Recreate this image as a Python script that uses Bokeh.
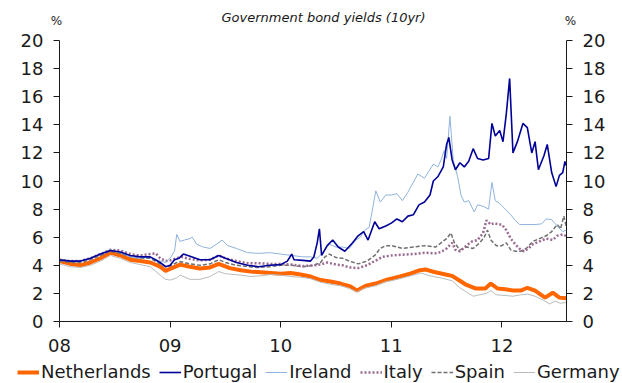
from bokeh.plotting import figure
from bokeh.models import (Range1d, LinearAxis, FixedTicker, Legend, LegendItem, Label)
from bokeh.embed import file_html
from bokeh.resources import INLINE

# 10-year government bond yields, % (x in decimal years)
nl_t = [2008.0, 2008.1, 2008.19, 2008.28, 2008.37, 2008.46, 2008.55, 2008.64, 2008.73, 2008.82,
        2008.91, 2008.96, 2009.0, 2009.09, 2009.18, 2009.27, 2009.36, 2009.44, 2009.54, 2009.64,
        2009.73, 2009.82, 2009.91, 2010.0, 2010.09, 2010.18, 2010.27, 2010.36, 2010.45, 2010.54,
        2010.63, 2010.69, 2010.77, 2010.86, 2010.95, 2011.0, 2011.08, 2011.17, 2011.26, 2011.31,
        2011.4, 2011.49, 2011.55, 2011.62, 2011.68, 2011.76, 2011.85, 2011.9, 2011.96, 2012.03,
        2012.1, 2012.17, 2012.23, 2012.3, 2012.39, 2012.46, 2012.52, 2012.58]
nl_v = [4.3, 4.1, 4.0, 4.2, 4.5, 4.9, 4.7, 4.4, 4.3, 4.2,
        3.9, 3.6, 3.75, 4.05, 3.9, 3.77, 3.85, 4.1, 3.8, 3.65,
        3.55, 3.5, 3.45, 3.4, 3.45, 3.35, 3.2, 2.95, 2.85, 2.7,
        2.5, 2.2, 2.55, 2.7, 2.95, 3.05, 3.2, 3.4, 3.65, 3.7,
        3.5, 3.35, 3.25, 2.9, 2.6, 2.35, 2.35, 2.7, 2.35, 2.3,
        2.2, 2.2, 2.4, 2.2, 1.7, 2.05, 1.7, 1.65]

pt_t = [2008.0, 2008.1, 2008.19, 2008.28, 2008.37, 2008.46, 2008.55, 2008.64, 2008.73, 2008.82,
        2008.91, 2008.96, 2009.0, 2009.04, 2009.08, 2009.12, 2009.18, 2009.27, 2009.36, 2009.44,
        2009.5, 2009.6, 2009.7, 2009.8, 2009.9, 2010.0, 2010.06, 2010.1, 2010.12, 2010.2,
        2010.27, 2010.3, 2010.33, 2010.35, 2010.37, 2010.42, 2010.47, 2010.52, 2010.58, 2010.65,
        2010.7, 2010.75, 2010.79, 2010.85, 2010.89, 2010.95, 2011.0, 2011.05, 2011.1, 2011.15,
        2011.2, 2011.25, 2011.3, 2011.35, 2011.38, 2011.42, 2011.47, 2011.5, 2011.52, 2011.55,
        2011.58, 2011.62, 2011.66, 2011.7, 2011.74, 2011.78, 2011.83, 2011.88, 2011.91, 2011.94,
        2011.98, 2012.01, 2012.04, 2012.07, 2012.1, 2012.14, 2012.19, 2012.23, 2012.27, 2012.3,
        2012.33, 2012.38, 2012.41, 2012.45, 2012.49, 2012.52, 2012.55, 2012.57, 2012.58]
pt_v = [4.4, 4.3, 4.3, 4.5, 4.8, 5.05, 4.95, 4.7, 4.6, 4.6,
        4.2, 3.9, 4.0, 4.4, 4.5, 4.8, 4.65, 4.4, 4.4, 4.7,
        4.5, 4.2, 4.0, 3.9, 4.0, 4.05, 4.3, 4.8, 4.4, 4.35,
        4.3, 4.6, 5.6, 6.6, 4.7, 5.4, 5.8, 5.3, 5.0, 5.6,
        6.1, 6.4, 5.8, 7.1, 6.6, 6.8, 7.0, 7.3, 7.1, 7.5,
        7.6, 8.3, 8.5, 9.0, 10.0, 10.3, 11.0, 12.6, 13.1, 11.5,
        10.8, 11.3, 11.0, 11.4, 12.3, 11.6, 11.5, 11.6, 14.1, 13.2,
        13.6, 12.8, 14.8, 17.3, 12.0, 12.8, 14.1, 13.8, 12.0, 12.8,
        10.8, 11.8, 12.6, 10.6, 9.6, 10.4, 10.6, 11.4, 11.1]

ie_t = [2008.0, 2008.1, 2008.19, 2008.28, 2008.37, 2008.46, 2008.55, 2008.64, 2008.73, 2008.82,
        2008.91, 2008.96, 2009.0, 2009.04, 2009.06, 2009.09, 2009.13, 2009.18, 2009.2, 2009.24,
        2009.3, 2009.36, 2009.42, 2009.47, 2009.52, 2009.6, 2009.7, 2009.8, 2009.9, 2010.0,
        2010.1, 2010.2, 2010.27, 2010.33, 2010.38, 2010.44, 2010.5, 2010.56, 2010.62, 2010.68,
        2010.72, 2010.76, 2010.8, 2010.83, 2010.86, 2010.9, 2010.95, 2011.0, 2011.05, 2011.1,
        2011.15, 2011.24, 2011.3, 2011.38, 2011.42, 2011.45, 2011.48, 2011.5, 2011.53, 2011.56,
        2011.6, 2011.63, 2011.66, 2011.7, 2011.75, 2011.78, 2011.83, 2011.88, 2011.91, 2011.94,
        2011.98, 2012.03, 2012.08, 2012.12, 2012.16, 2012.22, 2012.3, 2012.36, 2012.4, 2012.45,
        2012.5, 2012.55, 2012.58]
ie_v = [4.4, 4.3, 4.3, 4.5, 4.8, 5.1, 4.9, 4.6, 4.5, 4.6,
        4.3, 4.2, 4.5, 5.0, 6.2, 5.7, 5.8, 5.9, 6.0, 5.5,
        5.3, 5.2, 5.5, 5.8, 5.4, 5.2, 4.9, 4.85, 4.9, 4.8,
        4.7, 4.6, 4.6, 4.5, 4.9, 5.5, 5.3, 5.3, 5.2, 5.8,
        6.0, 6.5, 6.7, 8.0, 9.3, 8.5, 9.0, 9.0, 9.1, 8.6,
        9.2, 10.5, 10.2, 11.2, 11.0, 11.5, 12.2, 11.6, 14.6, 11.5,
        10.3, 9.0, 8.5, 8.6, 7.8, 8.3, 8.2, 8.0, 9.9, 8.6,
        8.4, 8.0, 7.6, 7.2, 6.9, 6.9, 6.9, 6.95, 7.3, 7.25,
        6.8, 6.4, 6.5]

it_t = [2008.0, 2008.1, 2008.19, 2008.28, 2008.37, 2008.46, 2008.55, 2008.64, 2008.73, 2008.82,
        2008.87, 2008.91, 2008.96, 2009.0, 2009.06, 2009.1, 2009.18, 2009.27, 2009.36, 2009.44,
        2009.5, 2009.6, 2009.7, 2009.8, 2009.9, 2010.0, 2010.1, 2010.2, 2010.3, 2010.36,
        2010.42, 2010.5, 2010.56, 2010.62, 2010.7, 2010.78, 2010.85, 2010.92, 2011.0, 2011.1,
        2011.2, 2011.3, 2011.4, 2011.45, 2011.5, 2011.55, 2011.58, 2011.62, 2011.68, 2011.73,
        2011.78, 2011.83, 2011.86, 2011.9, 2011.93, 2011.97, 2012.0, 2012.04, 2012.08, 2012.12,
        2012.17, 2012.2, 2012.24, 2012.28, 2012.34, 2012.4, 2012.46, 2012.5, 2012.55, 2012.58]
it_v = [4.4, 4.3, 4.3, 4.5, 4.8, 5.1, 5.05, 4.8, 4.7, 4.8,
        4.85, 4.5, 4.3, 4.35, 4.5, 4.6, 4.45, 4.35, 4.4, 4.7,
        4.5, 4.3, 4.15, 4.15, 4.1, 4.1, 4.05, 3.95, 4.0, 4.05,
        4.2, 4.05, 4.0, 3.85, 3.8, 4.0, 4.3, 4.6, 4.7, 4.75,
        4.8, 4.9, 4.85, 4.95, 5.2, 5.6, 5.1, 5.0, 5.4, 5.7,
        5.8, 6.3, 7.2, 6.9, 7.0, 6.9, 6.9, 6.5, 5.9, 5.5,
        5.1, 5.0, 5.2, 5.5, 5.7, 5.9, 5.8, 6.1, 6.2, 6.1]

es_t = [2008.0, 2008.1, 2008.19, 2008.28, 2008.37, 2008.46, 2008.55, 2008.64, 2008.73, 2008.82,
        2008.91, 2008.96, 2009.0, 2009.06, 2009.1, 2009.18, 2009.27, 2009.36, 2009.44, 2009.5,
        2009.6, 2009.7, 2009.8, 2009.9, 2010.0, 2010.1, 2010.2, 2010.3, 2010.36, 2010.4,
        2010.44, 2010.5, 2010.56, 2010.62, 2010.7, 2010.78, 2010.85, 2010.9, 2010.95, 2011.0,
        2011.1, 2011.2, 2011.3, 2011.4, 2011.45, 2011.5, 2011.54, 2011.57, 2011.62, 2011.68,
        2011.74, 2011.8, 2011.84, 2011.87, 2011.9, 2011.95, 2012.0, 2012.04, 2012.08, 2012.12,
        2012.17, 2012.22, 2012.28, 2012.34, 2012.4, 2012.45, 2012.5, 2012.53, 2012.56, 2012.58]
es_v = [4.3, 4.2, 4.2, 4.4, 4.7, 5.0, 4.85, 4.6, 4.5, 4.5,
        4.1, 3.9, 3.95, 4.2, 4.25, 4.1, 4.0, 4.1, 4.4, 4.2,
        4.0, 3.9, 3.85, 3.9, 4.0, 4.0, 3.9, 4.0, 4.2, 4.6,
        4.8, 4.55, 4.5, 4.3, 4.1, 4.3, 4.7, 5.2, 5.4, 5.4,
        5.2, 5.3, 5.4, 5.3, 5.6, 5.9, 6.3, 5.6, 5.1, 5.3,
        5.2, 5.6, 6.0, 6.5, 5.8, 5.4, 5.4, 5.6, 5.1, 5.0,
        5.0, 5.2, 5.7, 5.9, 6.1, 6.4, 6.9, 6.6, 7.5, 6.8]

de_t = [2008.0, 2008.1, 2008.19, 2008.28, 2008.37, 2008.46, 2008.55, 2008.64, 2008.73, 2008.82,
        2008.91, 2008.96, 2009.0, 2009.06, 2009.09, 2009.18, 2009.27, 2009.36, 2009.44, 2009.5,
        2009.64, 2009.73, 2009.82, 2009.91, 2010.0, 2010.09, 2010.18, 2010.27, 2010.36, 2010.45,
        2010.54, 2010.62, 2010.69, 2010.75, 2010.86, 2010.95, 2011.0, 2011.1, 2011.2, 2011.27,
        2011.35, 2011.45, 2011.55, 2011.62, 2011.68, 2011.74, 2011.8, 2011.86, 2011.9, 2011.95,
        2012.03, 2012.1, 2012.17, 2012.23, 2012.3, 2012.38, 2012.43, 2012.48, 2012.53, 2012.58]
de_v = [4.1, 3.9, 3.85, 4.0, 4.3, 4.7, 4.5, 4.2, 4.05, 3.9,
        3.3, 3.0, 2.95, 3.1, 3.3, 3.0, 3.0, 3.2, 3.55, 3.4,
        3.3, 3.2, 3.25, 3.35, 3.3, 3.2, 3.15, 3.05, 2.8, 2.65,
        2.55, 2.35, 2.1, 2.35, 2.55, 2.85, 2.9, 3.1, 3.3, 3.45,
        3.25, 3.1, 2.9, 2.4, 2.1, 1.8, 1.9, 2.0, 2.2, 1.9,
        1.85, 1.8, 1.9, 1.95, 1.8, 1.5, 1.25, 1.45, 1.3, 1.35]

year_ticks = [2008, 2009, 2010, 2011, 2012]
year_labels = ["08", "09", "10", "11", "12"]
pct_ticks = [0, 2, 4, 6, 8, 10, 12, 14, 16, 18, 20]

X_START, X_END = 2008.0, 2012.584   # span covered by the axes
Y_MIN, Y_MAX = 0, 20

FONT = "DejaVu Sans"
INK = "#1a1a1a"

# The frame fills the whole canvas; the axes sit at fixed data positions and
# are bounded, leaving room inside the frame for the title, "%" and legend.
p = figure(width=622, height=383, output_backend="svg", toolbar_location=None,
           x_range=Range1d(2007.4665, 2013.0904), y_range=Range1d(-4.4128, 22.847),
           x_axis_location=None, y_axis_location=None)
p.min_border = 0
p.outline_line_color = None
p.grid.visible = False
p.background_fill_color = "white"
p.border_fill_color = "white"


def style_axis(ax):
    ax.axis_line_color = INK
    ax.major_tick_line_color = INK
    ax.major_tick_in = 0
    ax.major_tick_out = 6
    ax.minor_tick_line_color = None
    ax.major_label_text_font = FONT
    ax.major_label_text_font_size = "18px"
    ax.major_label_text_color = INK


xax = LinearAxis(ticker=FixedTicker(ticks=year_ticks), fixed_location=Y_MIN,
                 bounds=(X_START, X_END),
                 major_label_overrides={t: s for t, s in zip(year_ticks, year_labels)})
style_axis(xax)
xax.major_label_standoff = 11
p.add_layout(xax, "below")

for side, loc in (("left", X_START), ("right", X_END)):
    yax = LinearAxis(ticker=FixedTicker(ticks=pct_ticks), fixed_location=loc,
                     bounds=(Y_MIN, Y_MAX))
    style_axis(yax)
    yax.major_label_standoff = 10
    p.add_layout(yax, side)

r_nl = p.line(nl_t, nl_v, line_color="#FF6600", line_width=4)
r_de = p.line(de_t, de_v, line_color="#BBBBBB", line_width=1)
r_es = p.line(es_t, es_v, line_color="#707070", line_width=1.5, line_dash="4 2")
r_it = p.line(it_t, it_v, line_color="#9A6A90", line_width=2.5, line_dash="2 2")
r_ie = p.line(ie_t, ie_v, line_color="#8FB3DD", line_width=1)
r_pt = p.line(pt_t, pt_v, line_color="#000099", line_width=1.6)

legend = Legend(items=[LegendItem(label="Netherlands", renderers=[r_nl]),
                       LegendItem(label="Portugal", renderers=[r_pt]),
                       LegendItem(label="Ireland", renderers=[r_ie]),
                       LegendItem(label="Italy", renderers=[r_it]),
                       LegendItem(label="Spain", renderers=[r_es]),
                       LegendItem(label="Germany", renderers=[r_de])],
                orientation="horizontal", location=(17, 1),
                label_text_font=FONT, label_text_font_size="18px", label_text_color=INK,
                glyph_width=22, glyph_height=18, label_standoff=2, spacing=8,
                padding=0, margin=0, border_line_alpha=0, background_fill_alpha=0)
p.add_layout(legend)

p.add_layout(Label(x=323, y=366, x_units="screen", y_units="screen",
                   text="Government bond yields (10yr)", text_font=FONT,
                   text_font_size="13px", text_font_style="italic", text_color=INK,
                   text_align="center", text_baseline="middle"))
p.add_layout(Label(x=56, y=363, x_units="screen", y_units="screen", text="%",
                   text_font=FONT, text_font_size="12px", text_color=INK,
                   text_align="center", text_baseline="middle"))
p.add_layout(Label(x=570, y=363, x_units="screen", y_units="screen", text="%",
                   text_font=FONT, text_font_size="12px", text_color=INK,
                   text_align="center", text_baseline="middle"))

open("out.html", "w").write(file_html(p, INLINE))
